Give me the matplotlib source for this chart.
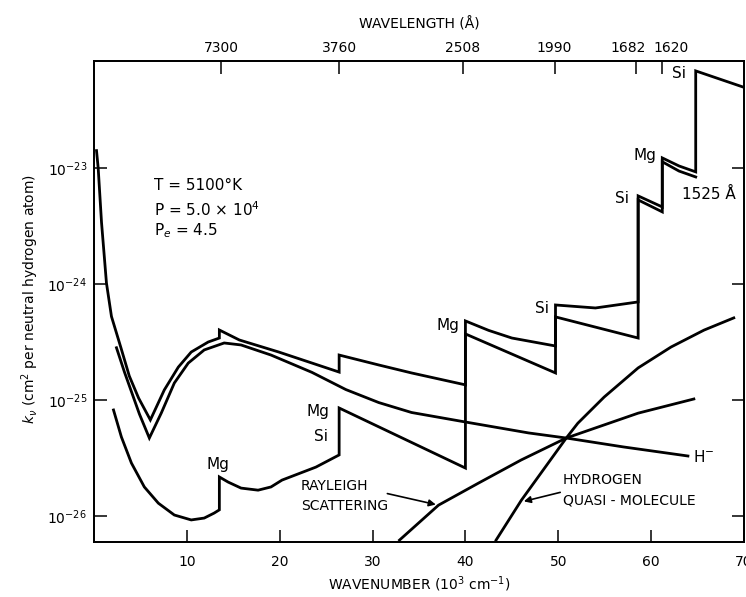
import matplotlib.pyplot as plt
from matplotlib.ticker import NullLocator
from matplotlib.transforms import ScaledTranslation

plt.rcParams['font.family'] = 'DejaVu Sans'
plt.rcParams['mathtext.fontset'] = 'dejavusans'

# total absorption coefficient (with metal edges)
tot_x = [0.27, 0.45, 0.81, 1.34, 1.88, 2.9, 3.8, 4.8, 6.07, 7.57, 9.08, 10.47, 12.3, 13.5, 13.5,
         15.65, 19.9, 26.4, 26.4, 30.7, 34.2, 40.0, 40.0, 42.5, 45.0, 49.7, 49.7, 54.0, 58.6,
         58.6, 61.2, 61.2, 63.0, 64.8, 64.8, 70.0]
tot_y = [1.41e-23, 1.0e-23, 3.39e-24, 1.02e-24, 5.25e-25, 2.82e-25, 1.61e-25, 1.04e-25, 6.73e-26,
         1.22e-25, 1.92e-25, 2.59e-25, 3.16e-25, 3.42e-25, 4.01e-25,
         3.29e-25, 2.59e-25, 1.74e-25, 2.44e-25, 2.0e-25, 1.71e-25, 1.35e-25, 4.8e-25, 3.98e-25,
         3.42e-25, 2.92e-25, 6.59e-25, 6.21e-25, 7.0e-25,
         5.74e-24, 4.61e-24, 1.22e-23, 1.04e-23, 9.25e-24, 6.86e-23, 4.95e-23]

# H- curve
hm_x = [2.42, 3.28, 4.89, 5.96, 7.25, 8.65, 10.15, 11.87, 14.02, 15.84, 19.06, 23.47, 27.12,
        30.67, 34.2, 40.0, 46.8, 50.86, 57.0, 63.96]
hm_y = [2.82e-25, 1.74e-25, 7.57e-26, 4.7e-26, 7.73e-26, 1.4e-25, 2.08e-25, 2.7e-25, 3.1e-25,
        2.98e-25, 2.44e-25, 1.73e-25, 1.23e-25, 9.5e-26, 7.8e-26, 6.46e-26, 5.2e-26, 4.7e-26,
        3.94e-26, 3.29e-26]

# metals (Mg, Si) curve
met_x = [2.1, 2.95, 4.03, 5.42, 6.93, 8.65, 10.47, 11.87, 12.94, 13.5, 13.5, 14.45, 15.84, 17.67,
         19.06, 20.25, 23.9, 26.4, 26.4, 40.0, 40.0, 49.7, 49.7, 58.6, 58.6, 61.2, 61.2, 63.0, 64.8]
met_y = [8.2e-26, 4.8e-26, 2.86e-26, 1.78e-26, 1.29e-26, 1.02e-26, 9.25e-27, 9.6e-27, 1.06e-26,
         1.13e-26, 2.17e-26, 1.96e-26, 1.74e-26, 1.67e-26, 1.78e-26, 2.04e-26, 2.64e-26, 3.36e-26,
         8.53e-26, 2.59e-26, 3.71e-25, 1.71e-25, 5.2e-25, 3.42e-25, 5.3e-24, 4.18e-24, 1.13e-23,
         9.4e-24, 8.36e-24]

# Rayleigh scattering
ray_x = [32.9, 37.1, 41.4, 46.0, 50.86, 58.6, 64.6]
ray_y = [6.2e-27, 1.24e-26, 1.92e-26, 3.04e-26, 4.7e-26, 7.7e-26, 1.02e-25]

# hydrogen quasi-molecule
h2_x = [43.3, 46.03, 50.86, 52.1, 54.94, 58.6, 62.14, 65.69, 68.9]
h2_y = [6.2e-27, 1.37e-26, 4.7e-26, 6.3e-26, 1.06e-25, 1.89e-25, 2.86e-25, 4.0e-25, 5.1e-25]

bottom_ticks = [10, 20, 30, 40, 50, 60, 70]
y_ticks = [1e-26, 1e-25, 1e-24, 1e-23]
y_labels = [r'$10^{-26}$', r'$10^{-25}$', r'$10^{-24}$', r'$10^{-23}$']
top_pos = [13.7, 26.4, 39.7, 49.6, 58.4, 61.2]
top_labels = ['7300', '3760', '2508', '1990', '1682', '1620']


def main():
    fig = plt.figure(figsize=(7.46, 5.97), dpi=100)
    ax = fig.add_axes([94/746, 55/597, 650/746, 481/597])
    kw = dict(color='black', lw=2.0, solid_joinstyle='miter')
    ax.plot(tot_x, tot_y, **kw)
    ax.plot(hm_x, hm_y, **kw)
    ax.plot(met_x, met_y, **kw)
    ax.plot(ray_x, ray_y, **kw)
    ax.plot(h2_x, h2_y, **kw)

    ax.set_yscale('log')
    ax.set_xlim(0, 70)
    ax.set_ylim(5.97e-27, 8.35e-23)
    ax.set_yticks(y_ticks)
    ax.set_yticklabels(y_labels)
    ax.yaxis.set_minor_locator(NullLocator())
    ax.set_xticks(bottom_ticks)
    ax.set_xticklabels([str(t) for t in bottom_ticks])
    ax.tick_params(direction='in', length=9, width=1.1, right=True, labelsize=10)
    ax.tick_params(axis='x', pad=9)
    ax.tick_params(axis='y', pad=5)
    for s in ax.spines.values():
        s.set_linewidth(1.3)
    ax.set_xlabel(r'WAVENUMBER (10$^3$ cm$^{-1}$)', fontsize=10, labelpad=4)

    ax2 = ax.twiny()
    ax2.set_xlim(ax.get_xlim())
    ax2.set_xticks(top_pos)
    ax2.set_xticklabels(top_labels)
    ax2.tick_params(direction='in', length=9, width=1.1, labelsize=10, pad=4)
    ax2.set_xlabel('WAVELENGTH (Å)', fontsize=10, labelpad=9)
    for s in ax2.spines.values():
        s.set_linewidth(1.3)
    # the two close labels sit apart from their ticks, as in the original
    labs = ax2.get_xticklabels()
    for lab, dx in [(labs[4], -8), (labs[5], 9)]:
        lab.set_transform(lab.get_transform() + ScaledTranslation(dx/100, 0, fig.dpi_scale_trans))

    fig.text(30/746, 1 - 299/597, r'$\mathit{k}_{\nu}$ (cm$^2$ per neutral hydrogen atom)',
             rotation=90, ha='center', va='center', fontsize=10)

    fs = 11
    ax.text(6.5, 7.1e-24, 'T = 5100°K', fontsize=fs, va='center')
    ax.text(6.5, 4.4e-24, r'P = 5.0 × 10$^4$', fontsize=fs, va='center')
    ax.text(6.5, 2.9e-24, r'P$_e$ = 4.5', fontsize=fs, va='center')

    ax.text(13.37, 2.8e-26, 'Mg', fontsize=fs, ha='center', va='center')
    ax.text(24.1, 8.0e-26, 'Mg', fontsize=fs, ha='center', va='center')
    ax.text(24.4, 4.8e-26, 'Si', fontsize=fs, ha='center', va='center')
    ax.text(38.1, 4.35e-25, 'Mg', fontsize=fs, ha='center', va='center')
    ax.text(48.3, 6.1e-25, 'Si', fontsize=fs, ha='center', va='center')
    ax.text(56.9, 5.4e-24, 'Si', fontsize=fs, ha='center', va='center')
    ax.text(59.3, 1.27e-23, 'Mg', fontsize=fs, ha='center', va='center')
    ax.text(63.0, 6.5e-23, 'Si', fontsize=fs, ha='center', va='center')
    ax.text(66.2, 5.4e-24, '1525 Å', fontsize=fs, ha='center', va='baseline')
    ax.text(64.5, 3.24e-26, r'H$^{-}$', fontsize=fs, ha='left', va='center')

    ax.text(22.3, 1.48e-26, 'RAYLEIGH\nSCATTERING', fontsize=10, ha='left', va='center',
            linespacing=1.55)
    ax.annotate('', xy=(37.1, 1.24e-26), xytext=(31.3, 1.58e-26),
                arrowprops=dict(arrowstyle='-|>', color='black', lw=1.2, mutation_scale=10))
    ax.text(50.5, 1.67e-26, 'HYDROGEN\nQUASI - MOLECULE', fontsize=10, ha='left', va='center',
            linespacing=1.55)
    ax.annotate('', xy=(46.0, 1.32e-26), xytext=(50.5, 1.62e-26),
                arrowprops=dict(arrowstyle='-|>', color='black', lw=1.2, mutation_scale=10))

    fig.savefig('out.png', dpi=100)


if __name__ == '__main__':
    main()
